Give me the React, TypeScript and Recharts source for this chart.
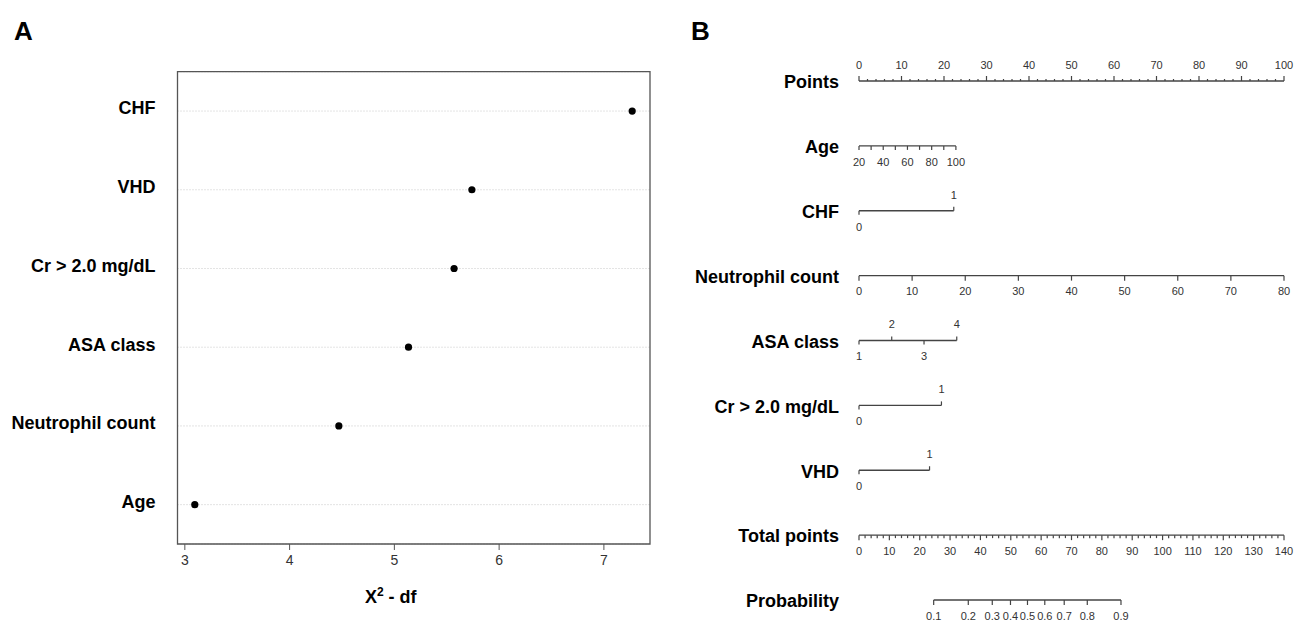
import {
  ComposedChart,
  Scatter,
  XAxis,
  YAxis,
  CartesianGrid,
  ReferenceArea,
} from "recharts";

// panel A: chi-square minus df for each predictor (bottom to top)
const importanceNames = ["Age", "Neutrophil count", "ASA class", "Cr > 2.0 mg/dL", "VHD", "CHF"];
const importanceValues = [3.095, 4.47, 5.135, 5.57, 5.74, 7.27];
const importanceTicks = [3, 4, 5, 6, 7];

// panel B: nomogram, one row per scale (top to bottom)
const nomoRows = [
  "Points",
  "Age",
  "CHF",
  "Neutrophil count",
  "ASA class",
  "Cr > 2.0 mg/dL",
  "VHD",
  "Total points",
  "Probability",
];
const pointsLabels = [0, 10, 20, 30, 40, 50, 60, 70, 80, 90, 100];
const ageTicks = [20, 30, 40, 50, 60, 70, 80, 90, 100];
const ageLabels = [20, 40, 60, 80, 100];
const ageMaxPoints = 22.8;
const chfPoints = [0, 22.3];
const neutTicks = [0, 10, 20, 30, 40, 50, 60, 70, 80];
const neutMaxPoints = 100;
const asaLevels = [1, 2, 3, 4];
const asaPoints = [0, 7.7, 15.3, 23.0];
const crPoints = [0, 19.4];
const vhdPoints = [0, 16.6];
const totalLabels = [0, 10, 20, 30, 40, 50, 60, 70, 80, 90, 100, 110, 120, 130, 140];
const probLevels = [0.1, 0.2, 0.3, 0.4, 0.5, 0.6, 0.7, 0.8, 0.9];
const probTotalPoints = [24.6, 36.0, 43.9, 49.9, 55.5, 61.2, 67.6, 75.2, 86.3];

const importanceData = importanceNames.map((name, i) => ({
  x: importanceValues[i],
  y: i + 1,
  name,
}));

const step2 = (max: number) => Array.from({ length: max / 2 + 1 }, (_, i) => i * 2);

const pointsData = step2(100).map((v) => ({
  x: v,
  y: 0,
  up: true,
  len: v % 10 === 0 ? 5 : 2,
  lab: pointsLabels.includes(v) ? String(v) : null,
}));
const ageData = ageTicks.map((a) => ({
  x: ((a - 20) / 80) * ageMaxPoints,
  y: 1,
  up: false,
  len: 4,
  lab: ageLabels.includes(a) ? String(a) : null,
}));
const binaryRow = (pts: number[], row: number) =>
  pts.map((p, i) => ({ x: p, y: row, up: i === 1, len: 4, lab: String(i) }));
const chfData = binaryRow(chfPoints, 2);
const neutData = neutTicks.map((n) => ({
  x: (n / 80) * neutMaxPoints,
  y: 3,
  up: false,
  len: 5,
  lab: String(n),
}));
const asaData = asaLevels.map((l, i) => ({
  x: asaPoints[i],
  y: 4,
  up: i % 2 === 1,
  len: 4,
  lab: String(l),
}));
const crData = binaryRow(crPoints, 5);
const vhdData = binaryRow(vhdPoints, 6);
const totalData = step2(140).map((v) => ({
  x: v,
  y: 7,
  up: false,
  len: v % 10 === 0 ? 5 : 3,
  lab: totalLabels.includes(v) ? String(v) : null,
}));
const probData = probLevels.map((p, i) => ({
  x: probTotalPoints[i],
  y: 8,
  up: false,
  len: 5,
  lab: String(p),
}));

const AXIS = "#444";

const Dot = (props: any) => <circle cx={props.cx} cy={props.cy} r={3.6} fill="#000" stroke="none" />;

const TickMark = (props: any) => {
  const { cx, cy, payload } = props;
  const dir = payload.up ? -1 : 1;
  return (
    <g>
      <line x1={cx} y1={cy} x2={cx} y2={cy + dir * payload.len} stroke={AXIS} strokeWidth={1.2} />
      {payload.lab !== null && (
        <text
          x={cx}
          y={cy + dir * 16}
          dy="0.35em"
          textAnchor="middle"
          fontSize={11}
          fill="#333"
          stroke="none"
        >
          {payload.lab}
        </text>
      )}
    </g>
  );
};

const RowLabel = (names: string[], shift: number) => (props: any) => {
  const { x, y, payload } = props;
  return (
    <text
      x={x}
      y={y + shift}
      dy="0.35em"
      textAnchor="end"
      fontSize={18}
      fontWeight="bold"
      fill="#000"
      stroke="none"
    >
      {names[payload.value]}
    </text>
  );
};

const ChiLabel = (props: any) => {
  const { viewBox } = props;
  const cx = viewBox.x + viewBox.width / 2 - 23;
  return (
    <text x={cx} y={603} textAnchor="middle" fontSize={18} fontWeight="bold" fill="#000">
      Χ
      <tspan dy={-7} fontSize={12}>
        2
      </tspan>
      <tspan dy={7}> - df</tspan>
    </text>
  );
};

const lineStyle = { stroke: AXIS, strokeWidth: 1.3 };

function ImportancePanel() {
  return (
    <ComposedChart
      width={660}
      height={621}
      margin={{ top: 71.7, right: 10, bottom: 0, left: 0 }}
    >
      <CartesianGrid vertical={false} stroke="#c8c8c8" strokeDasharray="1 2" />
      <XAxis
        type="number"
        dataKey="x"
        domain={[2.93, 7.44]}
        ticks={importanceTicks}
        height={77}
        axisLine={false}
        tickSize={6}
        tickMargin={5}
        tickLine={{ stroke: "#555" }}
        tick={{ fontSize: 14, fill: "#333" }}
        label={{ content: ChiLabel }}
      />
      <YAxis
        type="number"
        dataKey="y"
        domain={[0.5, 6.5]}
        ticks={[1, 2, 3, 4, 5, 6]}
        width={177.5}
        axisLine={false}
        tickLine={false}
        tickSize={0}
        tickMargin={22}
        tick={RowLabel(["", ...importanceNames], -3)}
      />
      <ReferenceArea
        x1={2.93}
        x2={7.44}
        y1={0.5}
        y2={6.5}
        fill="none"
        stroke="#555"
        strokeWidth={1.3}
        fillOpacity={0}
      />
      <Scatter data={importanceData} shape={Dot} fill="#000" isAnimationActive={false} />
    </ComposedChart>
  );
}

function NomogramPanel() {
  const rows: [any[], string][] = [
    [pointsData, "pts"],
    [ageData, "pts"],
    [chfData, "pts"],
    [neutData, "pts"],
    [asaData, "pts"],
    [crData, "pts"],
    [vhdData, "pts"],
    [totalData, "tot"],
    [probData, "tot"],
  ];
  return (
    <ComposedChart
      width={643}
      height={621}
      margin={{ top: 16.125, right: 19, bottom: 8.025, left: 0 }}
    >
      <XAxis xAxisId="pts" type="number" dataKey="x" domain={[0, 100]} hide />
      <XAxis xAxisId="tot" type="number" dataKey="x" domain={[0, 140]} hide />
      <YAxis
        type="number"
        dataKey="y"
        reversed
        domain={[-1, 8.2]}
        ticks={[0, 1, 2, 3, 4, 5, 6, 7, 8]}
        width={199}
        axisLine={false}
        tickLine={false}
        tickSize={0}
        tickMargin={20}
        tick={RowLabel(nomoRows, 1)}
      />
      {rows.map(([data, axisId], i) => (
        <Scatter
          key={nomoRows[i]}
          name={nomoRows[i]}
          data={data}
          xAxisId={axisId}
          shape={TickMark}
          fill={AXIS}
          stroke="none"
          line={lineStyle}
          isAnimationActive={false}
        />
      ))}
    </ComposedChart>
  );
}

export default function App() {
  const letter = {
    position: "absolute" as const,
    top: 18,
    fontSize: 26,
    lineHeight: "26px",
    fontWeight: "bold" as const,
  };
  return (
    <div
      style={{
        position: "absolute",
        left: 0,
        top: 0,
        width: 1303,
        height: 621,
        background: "#fff",
        fontFamily: "'Liberation Sans', Arial, sans-serif",
      }}
    >
      <div style={{ position: "absolute", left: 0, top: 0 }}>
        <ImportancePanel />
      </div>
      <div style={{ position: "absolute", left: 660, top: 0 }}>
        <NomogramPanel />
      </div>
      <div style={{ ...letter, left: 14 }}>A</div>
      <div style={{ ...letter, left: 691 }}>B</div>
    </div>
  );
}
